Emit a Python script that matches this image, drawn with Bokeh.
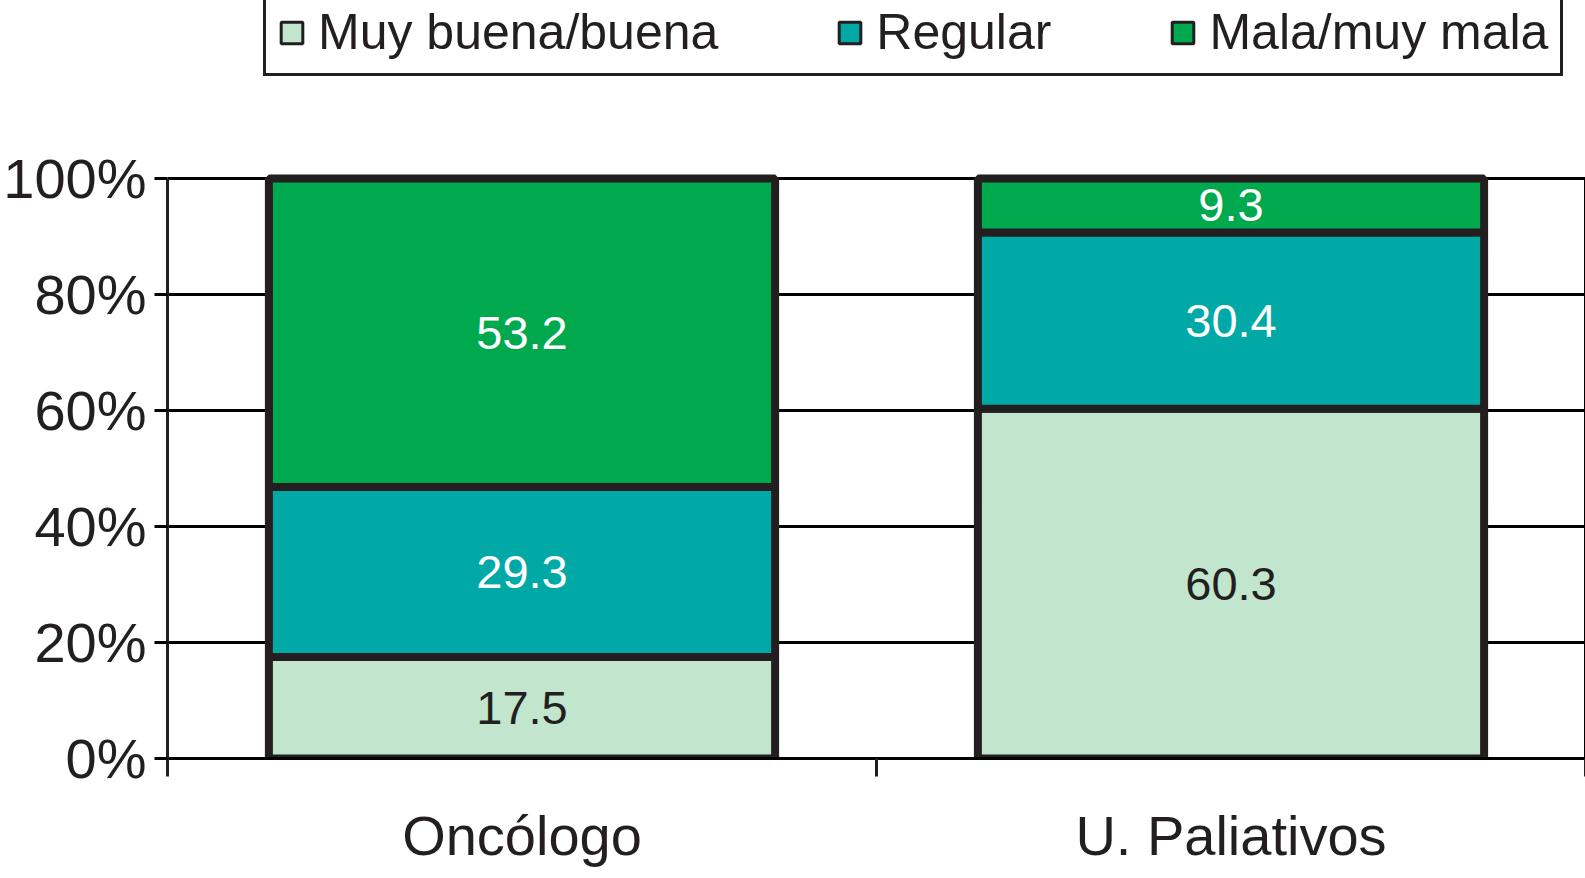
from bokeh.plotting import figure
from bokeh.models import (ColumnDataSource, FixedTicker, LinearAxis, Legend, LegendItem,
                          LabelSet, Range1d, PrintfTickFormatter)
from bokeh.core.properties import value
from bokeh.embed import file_html
from bokeh.resources import INLINE

categories = ["Oncólogo", "U. Paliativos"]
series = ["Muy buena/buena", "Regular", "Mala/muy mala"]
muy_buena = [17.5, 60.3]
regular = [29.3, 30.4]
mala = [53.2, 9.3]
colors = ["#c2e5cd", "#00a9a6", "#00a84e"]
label_colors = ["#231f20", "white", "white"]
y_ticks = [0, 20, 40, 60, 80, 100]

DARK = "#231f20"
FONT = "Liberation Sans"

# layout: frame spans from canvas top so the legend above the bars is not clipped
PLOT_H = 580      # pixels between 0% and 100%
TOP_SPACE = 178   # pixels above 100% (legend area)
y_end = 100 * (PLOT_H + TOP_SPACE) / PLOT_H

x = [i + 0.5 for i in range(len(categories))]
src = ColumnDataSource(dict(x=x, mb=muy_buena, reg=regular, mal=mala))

p = figure(frame_width=1418, frame_height=PLOT_H + TOP_SPACE,
           x_range=Range1d(0, len(categories)), y_range=Range1d(0, y_end),
           output_backend="svg", toolbar_location=None,
           min_border_left=165, min_border_right=4, min_border_top=0, min_border_bottom=0)

p.outline_line_color = None

# grid
p.xgrid.visible = False
p.ygrid.ticker = FixedTicker(ticks=y_ticks)
p.ygrid.grid_line_color = "black"
p.ygrid.grid_line_width = 3

# legend swatches (zero-size marks hidden under the bars)
swatches = [p.vbar(x=[x[0]], top=[0], bottom=[0], width=0, fill_color=c,
                   line_color=DARK, line_width=3) for c in colors]

# bars
renderers = p.vbar_stack(["mb", "reg", "mal"], x="x", width=0.714, source=src,
                         fill_color=colors, line_color=DARK, line_width=8)

# data labels
lx, ly, lt, lc = [], [], [], []
for i in range(len(categories)):
    base = 0.0
    for vals, col in zip([muy_buena, regular, mala], label_colors):
        v = vals[i]
        lx.append(x[i])
        ly.append(base + v / 2)
        lt.append(f"{v:.1f}")
        lc.append(col)
        base += v
lsrc = ColumnDataSource(dict(x=lx, y=ly, t=lt, c=lc))
labels = LabelSet(x="x", y="y", text="t", source=lsrc, text_color="c",
                  text_align="center", text_baseline="middle",
                  text_font_size="47px", text_font=value(FONT))
p.add_layout(labels)

# y axis
p.yaxis.ticker = FixedTicker(ticks=y_ticks)
p.yaxis.bounds = (0, 100)
p.yaxis.formatter = PrintfTickFormatter(format="%d%%")
p.yaxis.major_label_text_font_size = "56px"
p.yaxis.major_label_text_font = FONT
p.yaxis.major_label_text_color = DARK
p.yaxis.major_tick_out = 13
p.yaxis.major_tick_in = 0
p.yaxis.major_tick_line_width = 3
p.yaxis.major_tick_line_color = "black"
p.yaxis.minor_tick_line_color = None
p.yaxis.axis_line_width = 3
p.yaxis.axis_line_color = DARK
p.yaxis.major_label_standoff = 8

# right border line of the plot area
rax = LinearAxis(bounds=(0, 100), ticker=FixedTicker(ticks=[]), axis_line_width=3,
                 axis_line_color="black", major_tick_line_color=None,
                 minor_tick_line_color=None, major_label_text_font_size="2px",
                 major_label_standoff=0)
p.add_layout(rax, "right")

# x axis: boundary ticks
p.xaxis.ticker = FixedTicker(ticks=list(range(len(categories) + 1)))
p.xaxis.major_label_overrides = {i: " " for i in range(len(categories) + 1)}
p.xaxis.major_label_text_font_size = "2px"
p.xaxis.major_tick_out = 18
p.xaxis.major_tick_in = 0
p.xaxis.major_tick_line_width = 3
p.xaxis.major_tick_line_color = DARK
p.xaxis.minor_tick_line_color = None
p.xaxis.axis_line_width = 3
p.xaxis.axis_line_color = "black"
p.xaxis.major_label_standoff = 0

# x axis: category labels
ax2 = LinearAxis(ticker=FixedTicker(ticks=x),
                 major_label_overrides={xv: c for xv, c in zip(x, categories)},
                 axis_line_color=None, major_tick_line_color=None, minor_tick_line_color=None,
                 major_label_text_font_size="56px", major_label_text_font=FONT,
                 major_label_text_color=DARK, major_label_standoff=16)
p.add_layout(ax2, "below")

items = [LegendItem(label=s, renderers=[r]) for s, r in zip(series, swatches)]
legend = Legend(items=items, orientation="horizontal", location=(96, PLOT_H + TOP_SPACE - 76),
                label_text_font_size="50px", label_text_font=FONT, label_text_color=DARK,
                glyph_width=27, glyph_height=27, label_standoff=13, spacing=118,
                padding=12, margin=0, border_line_color=DARK, border_line_width=3,
                border_line_alpha=1.0,
                background_fill_color="white", background_fill_alpha=1.0)
p.add_layout(legend)

open("out.html", "w").write(file_html(p, INLINE))
